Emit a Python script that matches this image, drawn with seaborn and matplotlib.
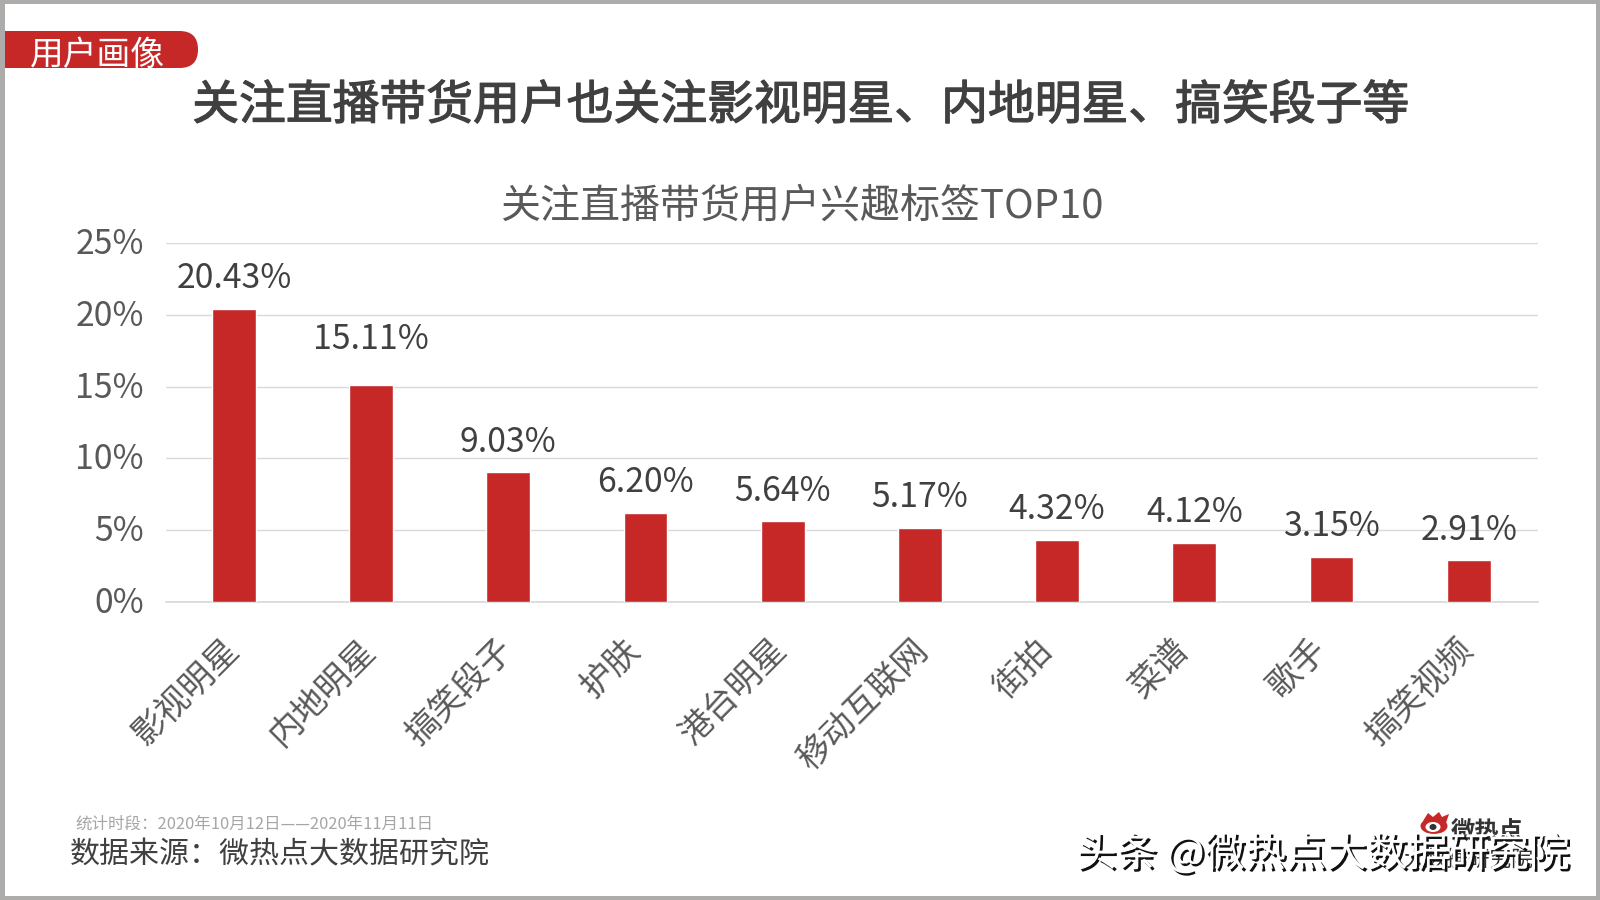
import matplotlib
matplotlib.use('Agg')
import matplotlib.pyplot as plt
import matplotlib.patheffects as pe
from matplotlib.patches import FancyBboxPatch, Rectangle, Ellipse, Polygon
from matplotlib.transforms import ScaledTranslation
import pandas as pd
import seaborn as sns

# values
tags = ['影视明星', '内地明星', '搞笑段子', '护肤', '港台明星', '移动互联网', '街拍', '菜谱', '歌手', '搞笑视频']
shares = [20.43, 15.11, 9.03, 6.20, 5.64, 5.17, 4.32, 4.12, 3.15, 2.91]
y_ticks = [0, 5, 10, 15, 20, 25]

W, H = 1600, 900
RED = '#C62828'
DARK = '#404040'

sns.set_theme(style='white')
plt.rcParams['font.family'] = ['Noto Sans CJK SC', 'DejaVu Sans']

fig = plt.figure(figsize=(16, 9), dpi=100, facecolor='white')

# chart area, in pixels of the 1600x900 canvas
ax = fig.add_axes([166 / W, 1 - 602 / H, 1372 / W, 359 / H])
df = pd.DataFrame({'tag': tags, 'share': shares})
sns.barplot(data=df, x='tag', y='share', color=RED, saturation=1, width=0.32, ax=ax, zorder=3)
ax.set_ylim(0, 25)
ax.set_xlim(-0.495, 9.505)
ax.set_yticks(y_ticks)
ax.set_yticklabels([f'{v}%' for v in y_ticks], fontsize=24.3, color='#595959')
ax.tick_params(axis='y', length=0, pad=16)
ax.tick_params(axis='x', length=0, pad=22)
ax.set_xlabel('')
ax.set_ylabel('')
ax.set_xticks(range(len(tags)))
ax.set_xticklabels(tags, rotation=45, ha='right', va='top', rotation_mode='anchor',
                   fontsize=24.3, color='#595959')
# the original centres its rotated labels a bit, so short ones end further left
for lab, tag in zip(ax.get_xticklabels(), tags):
    dx = -0.133 + (len(tag) - 4) * 0.046
    lab.set_transform(lab.get_transform() + ScaledTranslation(dx, 0, fig.dpi_scale_trans))
for lab in ax.get_yticklabels():
    lab.set_transform(lab.get_transform() + ScaledTranslation(0, 0.025, fig.dpi_scale_trans))
ax.grid(axis='y', color='#D9D9D9', linewidth=1, zorder=0)
sns.despine(ax=ax, left=True, top=True, right=True)
ax.spines['bottom'].set_color('#D9D9D9')
ax.patch.set_alpha(0)

for i, v in enumerate(shares):
    # the second label sits higher than the others in the original
    dy = 20 if tags[i] == '内地明星' else 9
    ax.annotate(f'{v:.2f}%', (i, v), xytext=(0, dy), textcoords='offset points',
                ha='center', va='bottom', fontsize=24.3, color=DARK)

# overlay in pixel coordinates for the slide furniture
ov = fig.add_axes([0, 0, 1, 1], zorder=-1)
ov.set_xlim(0, W)
ov.set_ylim(H, 0)
ov.axis('off')
top = fig.add_axes([0, 0, 1, 1], zorder=5)
top.set_xlim(0, W)
top.set_ylim(H, 0)
top.axis('off')
top.patch.set_alpha(0)

# grey slide frame
for x, y, w, h in [(0, 0, W, 4), (0, 0, 5, H), (0, 896, W, 4), (1596, 0, 4, H)]:
    ov.add_patch(Rectangle((x, y), w, h, color='#AEABAB', lw=0))

# badge
ov.add_patch(FancyBboxPatch((-20, 31), 218, 37, boxstyle='round,pad=0,rounding_size=18.5',
                            fc=RED, ec='none', mutation_aspect=1))
ov.add_patch(Rectangle((0, 0), 5, H, color='#AEABAB', lw=0))
top.text(97.5, 56, '用户画像', fontsize=24.3, color='white', ha='center', va='center')

top.text(800, 106, '关注直播带货用户也关注影视明星、内地明星、搞笑段子等', fontsize=33.7,
         color=DARK, ha='center', va='center',
         path_effects=[pe.withStroke(linewidth=0.9, foreground=DARK)])
top.text(802, 206, '关注直播带货用户兴趣标签TOP10', fontsize=28.8, color='#595959',
         ha='center', va='center')

top.text(75, 824, '统计时段：2020年10月12日——2020年11月11日', fontsize=11.85, color='#A6A6A6',
         ha='left', va='center')
top.text(70, 855, '数据来源：微热点大数据研究院', fontsize=21.6, color=DARK, ha='left', va='center')

# small logo under the watermark
top.add_patch(Ellipse((1434, 826), 27, 16, fc=RED, ec='none'))
top.add_patch(Polygon([(1423, 821), (1428, 813), (1433, 817), (1439, 812), (1442, 817), (1449, 814), (1446, 823)],
                      fc=RED, ec='none'))
top.add_patch(Ellipse((1433, 827), 15, 10, fc='white', ec='none'))
top.add_patch(Ellipse((1433, 827), 7, 6, fc='#333333', ec='none'))
top.text(1451, 832, '微热点', fontsize=17.5, color='#333333', ha='left', va='center', fontweight='bold')
top.text(1403, 860, '大数据研究院', fontsize=15.6, color='#333333', ha='left', va='center')

# toutiao watermark, white with a dark offset shadow
top.text(1076, 854, '头条 @微热点大数据研究院', fontsize=29.2, color='white', ha='left', va='center',
         path_effects=[pe.SimplePatchShadow(offset=(1.8, -1.8), shadow_rgbFace='#111111', alpha=1),
                       pe.Normal()])

fig.savefig('out.png', dpi=100)
